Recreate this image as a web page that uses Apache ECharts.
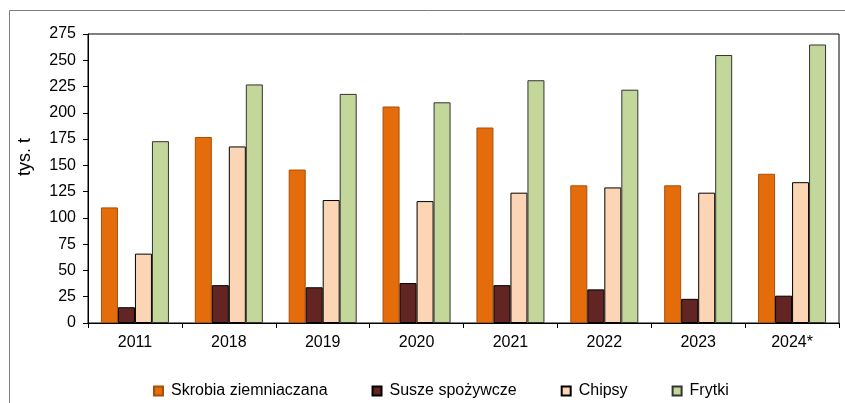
<!DOCTYPE html>
<html>
<head>
<meta charset="utf-8">
<script src="https://cdn.jsdelivr.net/npm/echarts@6/dist/echarts.min.js"></script>
<style>
  html, body { margin: 0; padding: 0; background: #fff; }
  #chart { width: 845px; height: 403px; }
</style>
</head>
<body>
<div id="chart"></div>
<script>
var years = ['2011', '2018', '2019', '2020', '2021', '2022', '2023', '2024*'];
var skrobia = [110, 177, 146, 206, 186, 131, 131, 142];
var susze = [15, 36, 34, 38, 36, 32, 23, 26];
var chipsy = [66, 168, 117, 116, 124, 129, 124, 134];
var frytki = [173, 227, 218, 210, 231, 222, 255, 265];
var yTicks = [0, 25, 50, 75, 100, 125, 150, 175, 200, 225, 250, 275];

var font = '"Liberation Sans", Arial, sans-serif';

var chart = echarts.init(document.getElementById('chart'));

function bar(name, data, color, border) {
  return {
    name: name,
    type: 'bar',
    data: data,
    barWidth: 17,
    barGap: '0%',
    itemStyle: { color: color, borderColor: border, borderWidth: 1 }
  };
}

chart.setOption({
  animation: false,
  textStyle: { fontFamily: font },
  grid: {
    left: 88, right: 6, top: 34, bottom: 80,
    show: true, borderColor: '#000', borderWidth: 1
  },
  graphic: [
    {
      type: 'rect',
      shape: { x: 9.5, y: 10.5, width: 900, height: 500 },
      style: { fill: 'none', stroke: '#7f7f7f', lineWidth: 1 },
      z: -10
    },
    {
      type: 'text',
      x: 25, y: 157,
      rotation: Math.PI / 2,
      style: {
        text: 'tys. t', font: '18px ' + font, fill: '#000',
        textAlign: 'center', textVerticalAlign: 'middle'
      }
    }
  ],
  legend: {
    left: 148, top: 378,
    itemWidth: 9, itemHeight: 9, itemGap: 44,
    icon: 'rect',
    textStyle: { fontSize: 16, color: '#000', fontFamily: font, padding: [0, 0, 0, 3] },
    data: ['Skrobia ziemniaczana', 'Susze spożywcze', 'Chipsy', 'Frytki']
  },
  xAxis: {
    type: 'category',
    data: years,
    axisLine: { lineStyle: { color: '#000', width: 1 } },
    axisTick: { show: true, length: 5, lineStyle: { color: '#000' } },
    axisLabel: { color: '#000', fontSize: 16, margin: 12, fontFamily: font }
  },
  yAxis: {
    type: 'value',
    min: yTicks[0],
    max: yTicks[yTicks.length - 1],
    interval: 25,
    axisLine: { show: true, lineStyle: { color: '#000', width: 1 } },
    axisTick: { show: true, length: 5, lineStyle: { color: '#000' } },
    splitLine: { show: false },
    axisLabel: { color: '#000', fontSize: 16, margin: 12, fontFamily: font }
  },
  series: [
    bar('Skrobia ziemniaczana', skrobia, '#E46C0A', '#A84F08'),
    bar('Susze spożywcze', susze, '#632523', '#000'),
    bar('Chipsy', chipsy, '#FCD5B5', '#000'),
    bar('Frytki', frytki, '#C4D79B', '#333')
  ]
});
</script>
</body>
</html>
